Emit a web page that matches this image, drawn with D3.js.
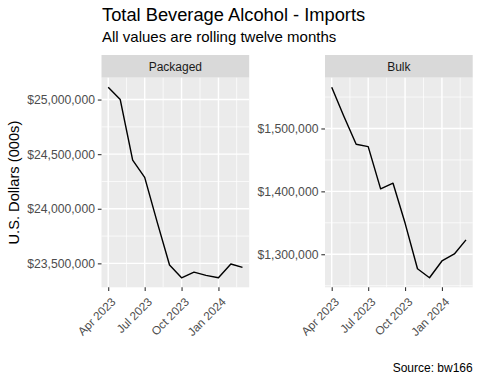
<!DOCTYPE html>
<html>
<head>
<meta charset="utf-8">
<script src="https://cdn.jsdelivr.net/npm/d3@7"></script>
<style>
  body { margin: 0; background: #fff; }
  svg { font-family: "Liberation Sans", Arial, sans-serif; display: block; }
</style>
</head>
<body>
<div id="chart"></div>
<script>
// Data: rolling twelve month imports (000s USD)
const months = ["2023-04-01","2023-05-01","2023-06-01","2023-07-01","2023-08-01","2023-09-01",
                "2023-10-01","2023-11-01","2023-12-01","2024-01-01","2024-02-01","2024-03-01"];
const packaged = [25113000, 25000000, 24445000, 24287000, 23880000, 23485000,
                  23368000, 23420000, 23390000, 23368000, 23494000, 23463000];
const bulk = [1565600, 1520000, 1474900, 1471200, 1404000, 1413000,
              1349600, 1277000, 1262600, 1289300, 1300500, 1322900];
const panelNames = ["Packaged", "Bulk"];
const xTickDates = ["2023-04-01","2023-07-01","2023-10-01","2024-01-01"];
const xTickLabels = ["Apr 2023","Jul 2023","Oct 2023","Jan 2024"];
const packagedTicks = [23500000, 24000000, 24500000, 25000000];
const bulkTicks = [1300000, 1400000, 1500000];

const W = 480, H = 384;
const parse = d3.utcParse("%Y-%m-%d");
const dates = months.map(parse);

const svg = d3.select("#chart").append("svg")
  .attr("width", W).attr("height", H);

// titles
svg.append("text").attr("x", 102).attr("y", 21)
  .attr("font-size", "18.3px").attr("fill", "#000")
  .text("Total Beverage Alcohol - Imports");
svg.append("text").attr("x", 102).attr("y", 42)
  .attr("font-size", "15px").attr("fill", "#000")
  .text("All values are rolling twelve months");
svg.append("text").attr("x", 472.7).attr("y", 371.5)
  .attr("text-anchor", "end")
  .attr("font-size", "12px").attr("fill", "#000")
  .text("Source: bw166");
svg.append("text")
  .attr("transform", "translate(18.5,182.6) rotate(-90)")
  .attr("text-anchor", "middle")
  .attr("font-size", "14.67px").attr("fill", "#000")
  .text("U.S. Dollars (000s)");

const stripTop = 55, panelTop = 77.7, panelBottom = 287.3;
const panels = [
  { name: panelNames[0], left: 101.5, right: 249.2, values: packaged, ticks: packagedTicks },
  { name: panelNames[1], left: 325, right: 472.7, values: bulk, ticks: bulkTicks }
];

const fmt = d => "$" + d3.format(",")(d);

function expand(ext, r) {
  const pad = (ext[1] - ext[0]) * r;
  return [ext[0] - pad, ext[1] + pad];
}

// minor breaks halfway between majors, like ggplot
function minorOf(majors, domain) {
  const step = majors[1] - majors[0];
  const ext = [majors[0] - step].concat(majors, [majors[majors.length - 1] + step]);
  const out = [];
  for (let i = 0; i < ext.length - 1; i++) out.push((ext[i] + ext[i + 1]) / 2);
  return out.filter(v => v >= domain[0] && v <= domain[1]);
}

const xMajor = xTickDates.map(parse);

panels.forEach(function(p) {
  const xDom = expand(d3.extent(dates, d => +d), 0.05);
  const x = d3.scaleUtc().domain(xDom.map(v => new Date(v))).range([p.left, p.right]);
  const yDom = expand(d3.extent(p.values), 0.05);
  const y = d3.scaleLinear().domain(yDom).range([panelBottom, panelTop]);

  const g = svg.append("g");

  // strip
  g.append("rect").attr("x", p.left).attr("y", stripTop)
    .attr("width", p.right - p.left).attr("height", panelTop - stripTop)
    .attr("fill", "#D9D9D9");
  g.append("text").attr("x", (p.left + p.right) / 2).attr("y", (stripTop + panelTop) / 2)
    .attr("dy", "0.36em")
    .attr("text-anchor", "middle").attr("font-size", "12px").attr("fill", "#1A1A1A")
    .text(p.name);

  // panel background
  g.append("rect").attr("x", p.left).attr("y", panelTop)
    .attr("width", p.right - p.left).attr("height", panelBottom - panelTop)
    .attr("fill", "#EBEBEB");

  // minor grid
  const xMinor = minorOf(xMajor.map(d => +d), xDom);
  g.selectAll(".xminor").data(xMinor).enter().append("line")
    .attr("x1", d => x(new Date(d))).attr("x2", d => x(new Date(d)))
    .attr("y1", panelTop).attr("y2", panelBottom)
    .attr("stroke", "#fff").attr("stroke-width", 0.71);
  g.selectAll(".yminor").data(minorOf(p.ticks, yDom)).enter().append("line")
    .attr("x1", p.left).attr("x2", p.right)
    .attr("y1", d => y(d)).attr("y2", d => y(d))
    .attr("stroke", "#fff").attr("stroke-width", 0.71);

  // major grid
  g.selectAll(".xmajor").data(xMajor).enter().append("line")
    .attr("x1", d => x(d)).attr("x2", d => x(d))
    .attr("y1", panelTop).attr("y2", panelBottom)
    .attr("stroke", "#fff").attr("stroke-width", 1.42);
  g.selectAll(".ymajor").data(p.ticks).enter().append("line")
    .attr("x1", p.left).attr("x2", p.right)
    .attr("y1", d => y(d)).attr("y2", d => y(d))
    .attr("stroke", "#fff").attr("stroke-width", 1.42);

  // line
  const line = d3.line().x((d, i) => x(dates[i])).y(d => y(d));
  g.append("path").datum(p.values).attr("d", line)
    .attr("fill", "none").attr("stroke", "#000").attr("stroke-width", 1.42)
    .attr("stroke-linejoin", "round");

  // y axis
  const yAxis = d3.axisLeft(y).tickValues(p.ticks).tickFormat(fmt)
    .tickSize(3.67).tickPadding(2.9);
  const ya = g.append("g").attr("transform", "translate(" + p.left + ",0)").call(yAxis);
  ya.select(".domain").remove();
  ya.selectAll("line").attr("stroke", "#333333").attr("stroke-width", 1.1);
  ya.selectAll("text").attr("font-size", "12.2px").attr("fill", "#4D4D4D")
    .attr("font-family", "Liberation Sans, Arial, sans-serif");

  // x axis
  const xAxis = d3.axisBottom(x).tickValues(xMajor)
    .tickFormat((d, i) => xTickLabels[i]).tickSize(3.67);
  const xa = g.append("g").attr("transform", "translate(0," + panelBottom + ")").call(xAxis);
  xa.select(".domain").remove();
  xa.selectAll("line").attr("stroke", "#333333").attr("stroke-width", 1.1);
  xa.selectAll("text")
    .attr("font-size", "11.73px").attr("fill", "#4D4D4D")
    .attr("font-family", "Liberation Sans, Arial, sans-serif")
    .attr("text-anchor", "end")
    .attr("y", 0).attr("dy", "0.75em")
    .attr("transform", "translate(1.5,9) rotate(-45)");
});
</script>
</body>
</html>
